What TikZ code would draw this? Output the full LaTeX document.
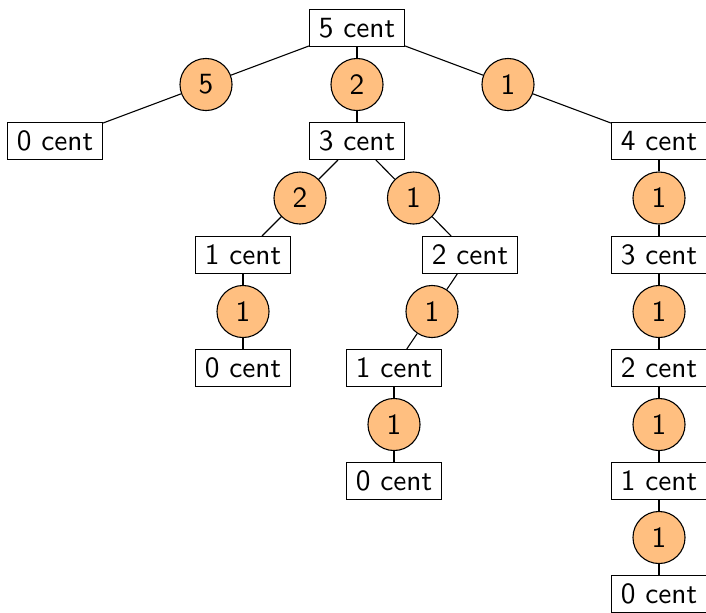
\documentclass[tikz,border=0pt]{standalone}
\begin{document}
\begin{tikzpicture}[x=0.365pt, y=-0.365pt,
  every node/.style={font=\sffamily\fontsize{10.7}{12}\selectfont},
  amount/.style={draw, fill=white, inner sep=0pt, minimum width=34.7pt, minimum height=13.5pt},
  coin/.style={draw, circle, fill=orange!50, inner sep=0pt, minimum size=19pt},
  edge/.style={draw}]
\useasboundingbox (0,0) rectangle (706,612);
% amounts
\node[amount] (r)   at (357,28)  {5 cent};
\node[amount] (a0)  at (55,141)  {0 cent};
\node[amount] (a3)  at (357,141) {3 cent};
\node[amount] (a4)  at (659,141) {4 cent};
\node[amount] (b1)  at (243,255) {1 cent};
\node[amount] (b2)  at (470,255) {2 cent};
\node[amount] (c0)  at (243,368) {0 cent};
\node[amount] (c1)  at (394,368) {1 cent};
\node[amount] (d0)  at (394,481) {0 cent};
\node[amount] (e3)  at (659,255) {3 cent};
\node[amount] (e2)  at (659,368) {2 cent};
\node[amount] (e1)  at (659,481) {1 cent};
\node[amount] (e0)  at (659,594) {0 cent};
% coins
\node[coin] (k5)  at (206,84.5)  {5};
\node[coin] (k2)  at (357,84.5)  {2};
\node[coin] (k1)  at (508,84.5)  {1};
\node[coin] (m2)  at (300,198)   {2};
\node[coin] (m1)  at (413.5,198) {1};
\node[coin] (n1)  at (243,311.5) {1};
\node[coin] (p1)  at (432,311.5) {1};
\node[coin] (q1)  at (394,424.5) {1};
\node[coin] (s1)  at (659,198)   {1};
\node[coin] (s2)  at (659,311.5) {1};
\node[coin] (s3)  at (659,424.5) {1};
\node[coin] (s4)  at (659,537.5) {1};
% connectors
\draw (r) -- (k5) -- (a0);
\draw (r) -- (k2) -- (a3);
\draw (r) -- (k1) -- (a4);
\draw (a3) -- (m2) -- (b1);
\draw (a3) -- (m1) -- (b2);
\draw (b1) -- (n1) -- (c0);
\draw (b2) -- (p1) -- (c1);
\draw (c1) -- (q1) -- (d0);
\draw (a4) -- (s1) -- (e3);
\draw (e3) -- (s2) -- (e2);
\draw (e2) -- (s3) -- (e1);
\draw (e1) -- (s4) -- (e0);
\end{tikzpicture}
\end{document}
